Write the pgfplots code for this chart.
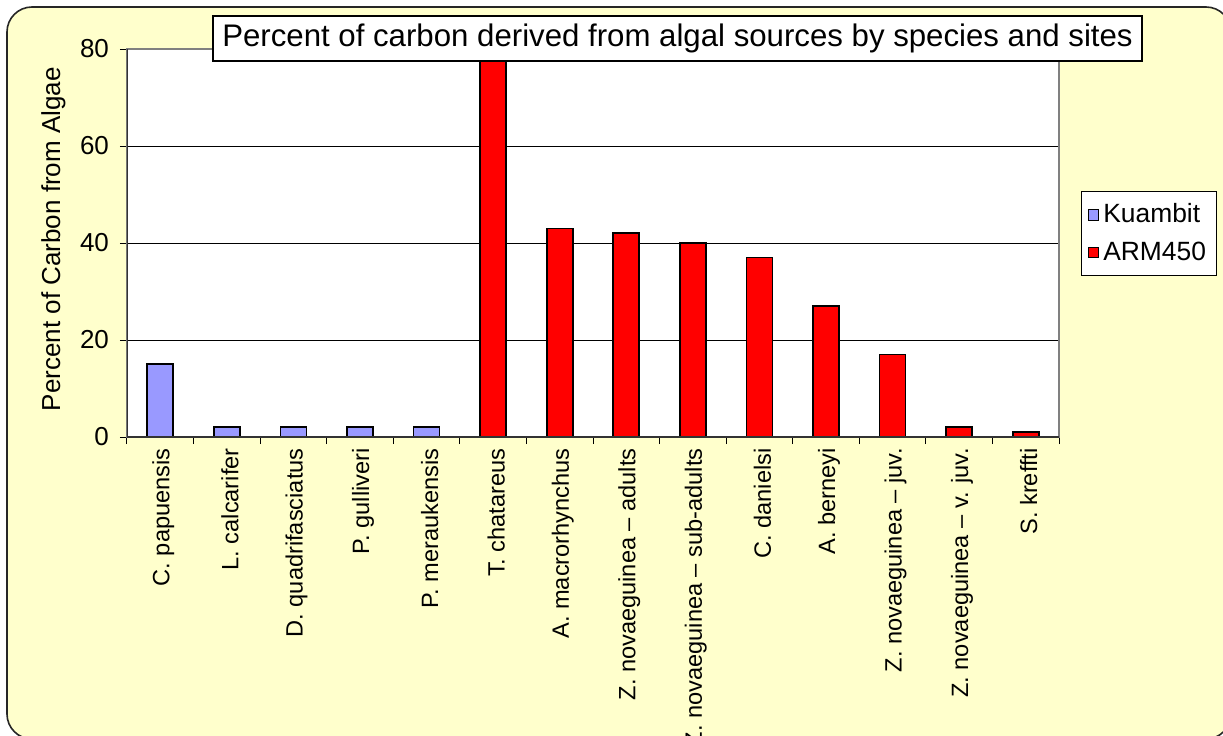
\documentclass[border=0pt]{standalone}
\usepackage{pgfplots}
\pgfplotsset{compat=1.18}
\usepackage{fontspec}
\setmainfont{Liberation Sans}
\definecolor{bgyel}{HTML}{FFFFCC}
\definecolor{kua}{HTML}{9999FF}
\definecolor{arm}{HTML}{FF0000}
\begin{document}
\begin{tikzpicture}
\path[use as bounding box] (0pt,0pt) rectangle (611.5pt,367.5pt);
\begin{scope}
\clip (0pt,0pt) rectangle (611.5pt,367.5pt);
\draw[fill=bgyel, draw=black!85, line width=0.8pt, rounded corners=12.5pt] (3.5pt,-2pt) rectangle (615.5pt,364pt);
\end{scope}
\begin{axis}[
  at={(63.5pt,149pt)}, anchor=south west,
  scale only axis, width=466pt, height=194pt,
  xmin=-0.5, xmax=13.5, ymin=0, ymax=80,
  ytick={0,20,40,60,80},
  xtick={-0.5,0.5,...,13.5},
  x tick label as interval,
  xticklabels={C. papuensis, L. calcarifer, D. quadrifasciatus, P. gulliveri, P. meraukensis, T. chatareus, A. macrorhynchus, Z. novaeguinea \textendash{} adults, Z. novaeguinea \textendash{} sub-adults, C. danielsi, A. berneyi, Z. novaeguinea \textendash{} juv., Z. novaeguinea \textendash{} v. juv., S. kreffti},
  xticklabel style={rotate=90, anchor=east, font=\fontsize{11.8}{14}\selectfont, inner sep=2pt, yshift=-1.5pt},
  yticklabel style={font=\fontsize{13}{15}\selectfont, xshift=-2pt},
  /pgf/number format/assume math mode=true,
  tick pos=left, tick align=outside, major tick length=3.5pt,
  tick style={black, line width=0.5pt},
  ymajorgrids, grid style={black, line width=0.5pt},
  axis line style={draw=gray, line width=0.6pt},
  axis background/.style={fill=white},
  every axis y label/.style={at={(axis description cs:-0.079,0.51)}, rotate=90, anchor=center, font=\fontsize{13}{15}\selectfont},
  ylabel={Percent of Carbon from Algae},
  ybar, bar width=13pt,
  legend style={at={(1.0236,0.5245)}, anchor=west, draw=black, fill=white, line width=0.5pt,
    font=\fontsize{13.2}{15}\selectfont, row sep=4pt, inner xsep=3pt, inner ysep=4pt},
  legend image code/.code={\draw[#1, draw=black, line width=0.5pt] (0pt,-2.7pt) rectangle (5.4pt,2.7pt);},
  legend cell align=left,
]
\addplot[bar shift=0pt, fill=kua, draw=black, line width=0.9pt] coordinates {(0,15) (1,2) (2,2) (3,2) (4,2)};
\addlegendentry{Kuambit}
\addplot[bar shift=0pt, fill=arm, draw=black, line width=0.9pt] coordinates {(5,80) (6,43) (7,42) (8,40) (9,37) (10,27) (11,17) (12,2) (13,1)};
\addlegendentry{ARM450}
\draw[black!80, line width=0.7pt] (rel axis cs:0,0) -- (rel axis cs:0,1);
\draw[black!80, line width=0.7pt] (rel axis cs:0,0) -- (rel axis cs:1,0);
\end{axis}
\node[draw=black, fill=white, line width=0.6pt, minimum width=464.5pt, minimum height=22.5pt, inner sep=0pt,
  font=\fontsize{15.6}{18}\selectfont] at (338.75pt,348.25pt) {Percent of carbon derived from algal sources by species and sites};
\end{tikzpicture}
\end{document}
